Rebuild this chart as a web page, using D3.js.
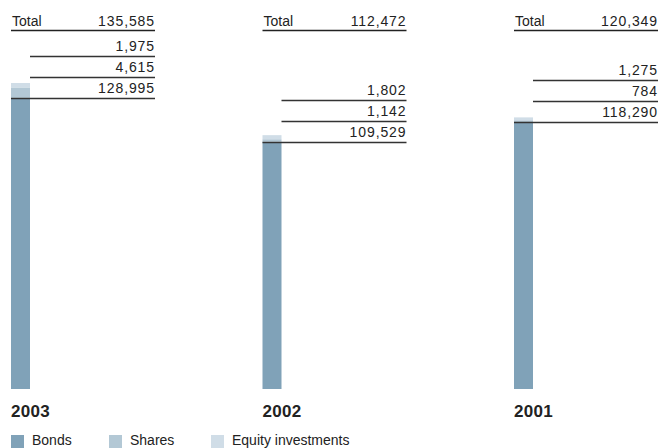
<!DOCTYPE html>
<html><head><meta charset="utf-8">
<script src="https://cdn.jsdelivr.net/npm/d3@7"></script>
<style>body{margin:0;background:#fff}svg{display:block}</style>
</head><body>
<svg id="c" width="658" height="448"></svg>
<script>
const years = ["2003", "2002", "2001"];
const bonds = [128995, 109529, 118290];
const shares = [4615, 1142, 784];
const equity = [1975, 1802, 1275];
const totals = [135585, 112472, 120349];
const seriesNames = ["Bonds", "Shares", "Equity investments"];
const colors = ["#80a2b8", "#b3c8d5", "#d0dde7"];

const svg = d3.select("#c");
const font = "'Liberation Sans', Arial, sans-serif";
const fmt = d3.format(",");

const x = d3.scalePoint().domain(years).range([11, 514]);
const y = d3.scaleLinear().domain([0, 135585]).range([389, 83]);
const barW = 19, colW = 144, step = 21;

const rows = years.map((yr, i) => ({yr, bonds: bonds[i], shares: shares[i], equity: equity[i], total: totals[i]}));
const stack = d3.stack().keys(["bonds", "shares", "equity"])(rows);

stack.forEach((layer, li) => {
  svg.append("g").selectAll("rect").data(layer).join("rect")
    .attr("x", d => x(d.data.yr))
    .attr("y", d => y(d[1]))
    .attr("width", barW)
    .attr("height", d => y(d[0]) - y(d[1]))
    .attr("fill", colors[li]);
});

const g = svg.append("g").attr("font-family", font).attr("fill", "#222");
rows.forEach(r => {
  const x0 = x(r.yr), x1 = x0 + colW;
  g.append("text").attr("x", x0 + 1).attr("y", 26).attr("font-size", 14).text("Total");
  g.append("text").attr("x", x1).attr("y", 26).attr("font-size", 14).attr("text-anchor", "end")
    .attr("letter-spacing", 0.9).text(fmt(r.total));
  g.append("line").attr("x1", x0).attr("x2", x1).attr("y1", 30.5).attr("y2", 30.5)
    .attr("stroke", "#222").attr("stroke-width", 1.5);
  const by = Math.round(y(r.bonds));
  const labels = [
    {v: r.bonds, ly: by, from: x0},
    {v: r.shares, ly: by - step, from: x0 + barW},
    {v: r.equity, ly: by - 2 * step, from: x0 + barW}
  ];
  labels.forEach(l => {
    g.append("line").attr("x1", l.from).attr("x2", x1).attr("y1", l.ly + 0.5).attr("y2", l.ly + 0.5)
      .attr("stroke", "#333").attr("stroke-width", 1.5);
    g.append("text").attr("x", x1).attr("y", l.ly - 5).attr("font-size", 14).attr("text-anchor", "end")
      .attr("letter-spacing", 0.9).text(fmt(l.v));
  });
  g.append("text").attr("x", x0).attr("y", 417).attr("font-size", 17).attr("font-weight", "bold")
    .attr("letter-spacing", 0.3).text(r.yr);
});

const legX = [11, 109, 211];
seriesNames.forEach((n, i) => {
  svg.append("rect").attr("x", legX[i]).attr("y", 435).attr("width", 13).attr("height", 13).attr("fill", colors[i]);
  g.append("text").attr("x", legX[i] + 21).attr("y", 445).attr("font-size", 14).text(n);
});
</script>
</body></html>
